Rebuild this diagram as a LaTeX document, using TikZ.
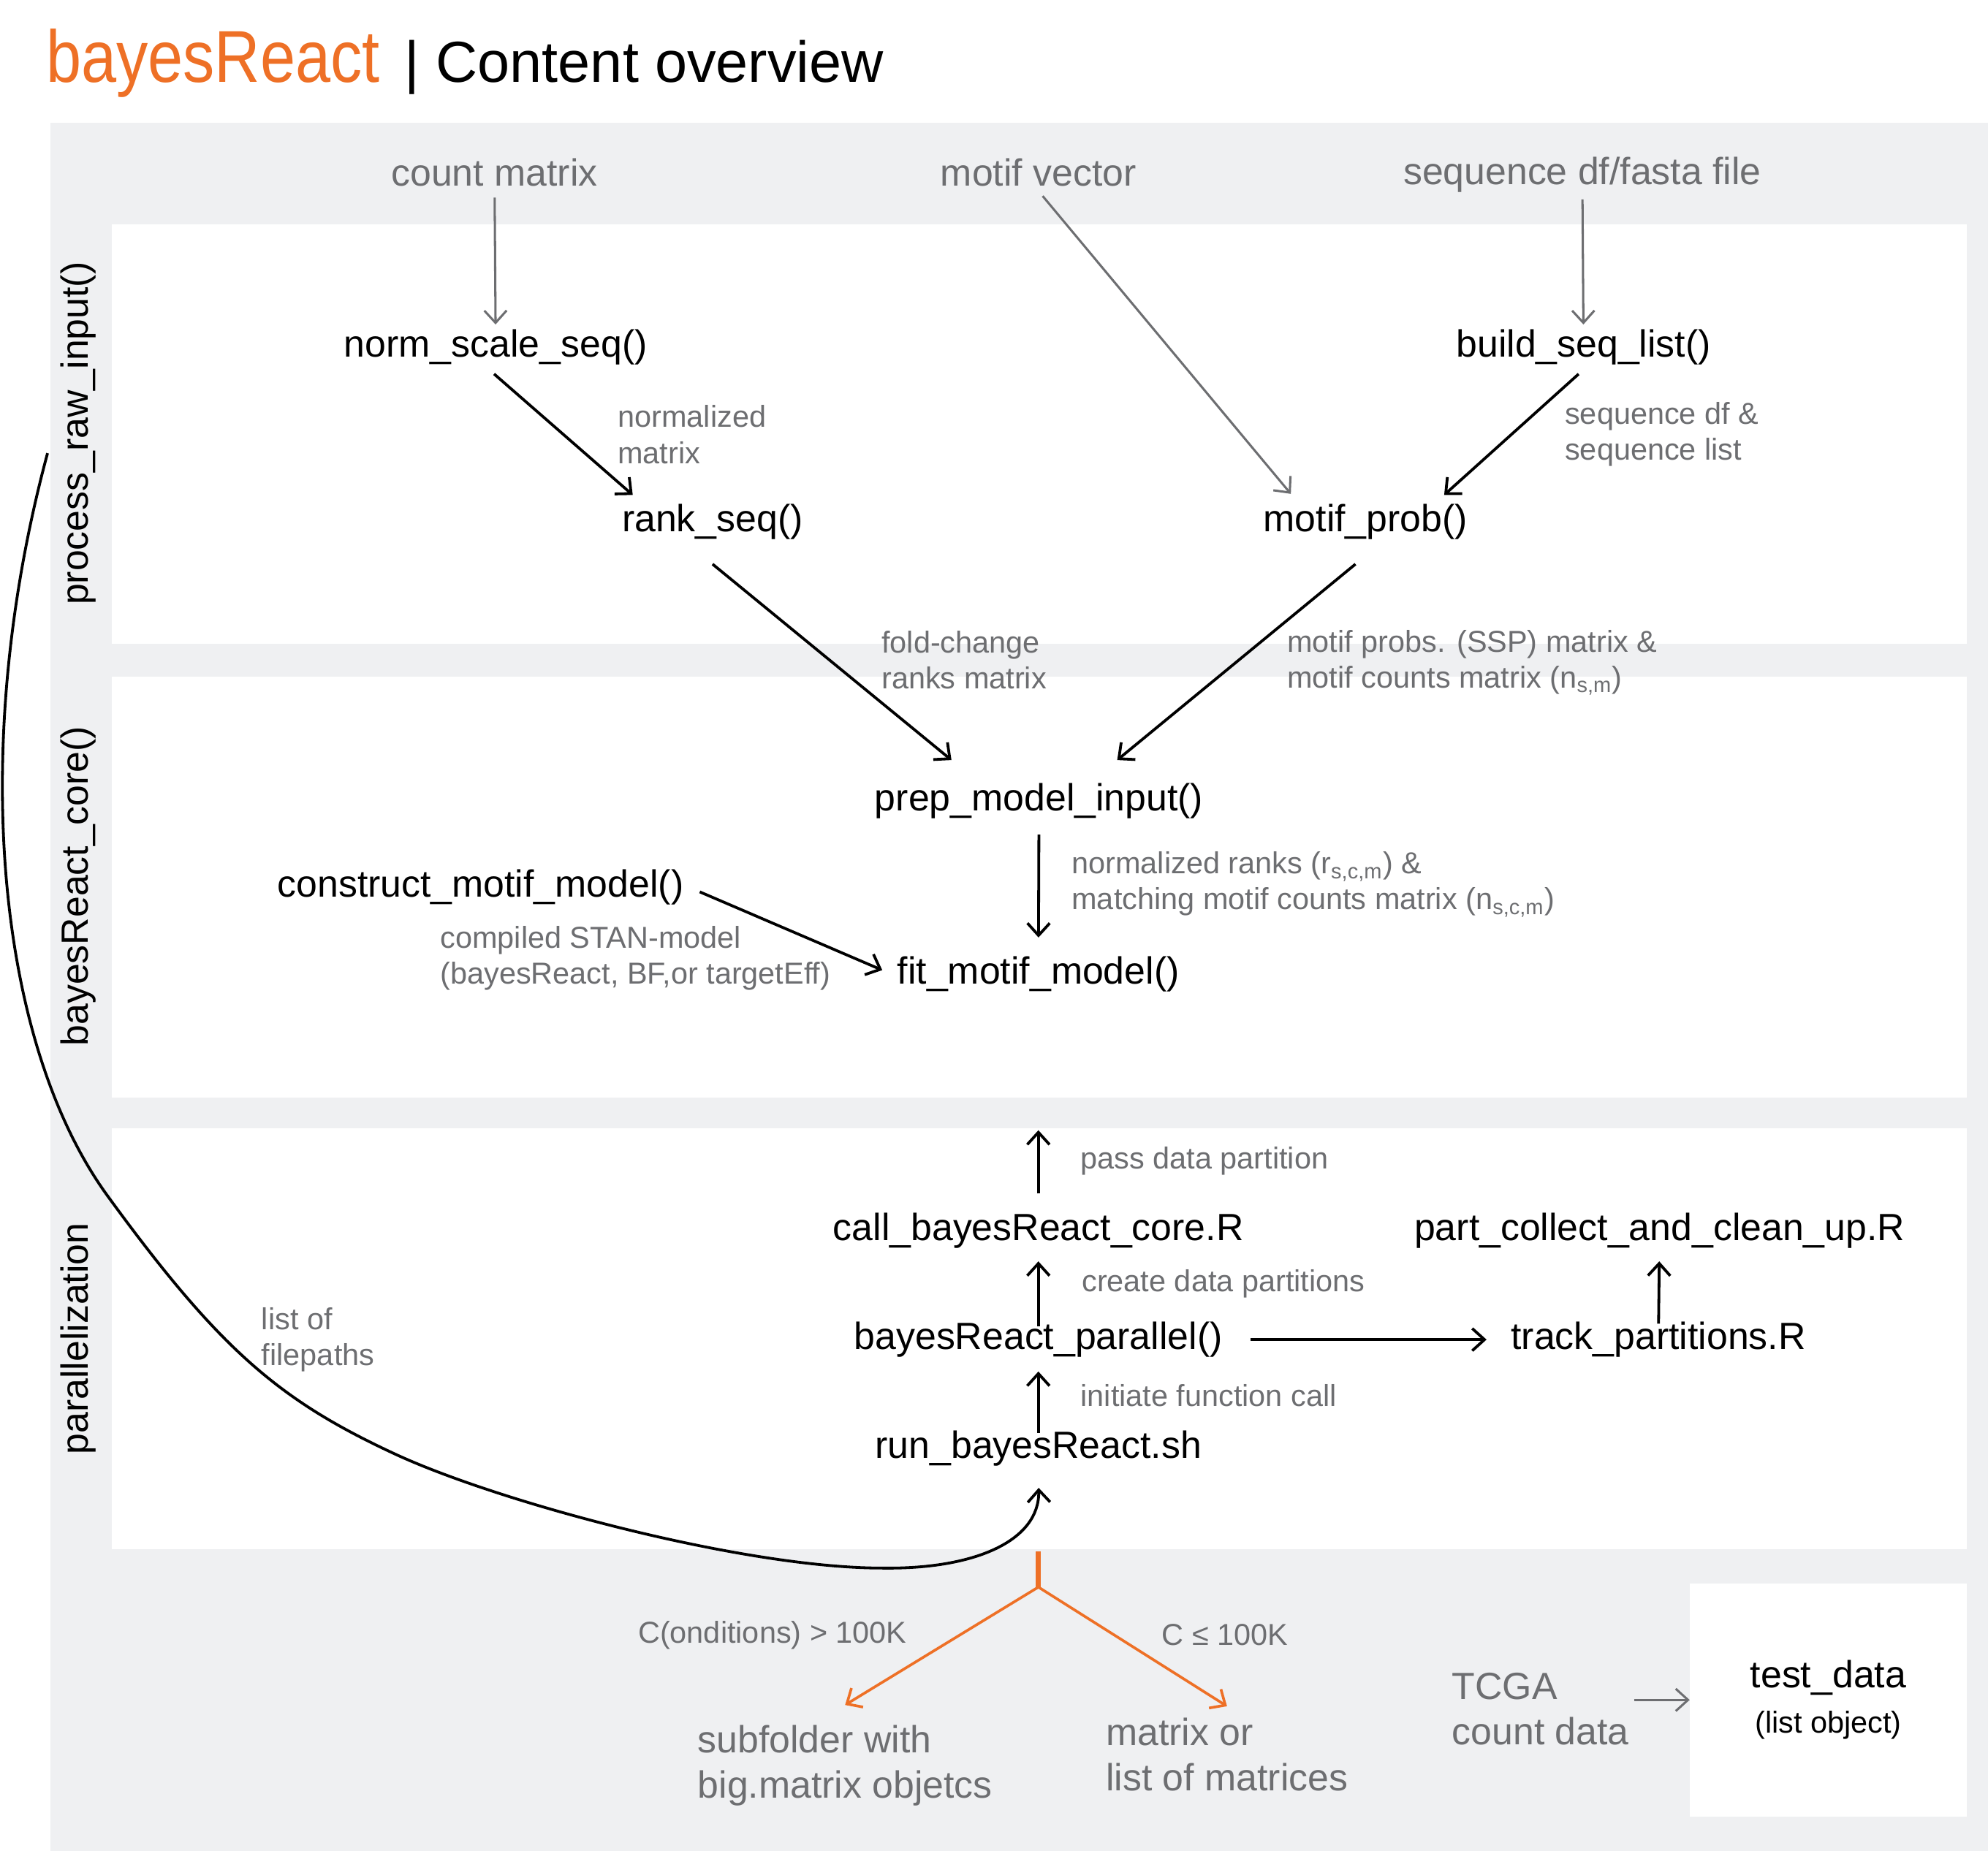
\documentclass[tikz,border=0pt]{standalone}
\usepackage{fontspec}
\setmainfont{Liberation Sans}
\newfontfamily\brandfont[FakeStretch=0.86]{Liberation Sans}
\usetikzlibrary{arrows.meta}
\definecolor{brandorange}{HTML}{EE7026}
\definecolor{notegray}{HTML}{6D6E71}
\definecolor{bggray}{HTML}{EFF0F2}

\begin{document}
\begin{tikzpicture}[x=0.02cm, y=-0.02cm, >={Straight Barb[length=5.5pt,width=10pt]},
    fn/.style={inner sep=2pt, yshift=-1pt, font=\fontsize{17}{20.4}\selectfont},
    inp/.style={fn, text=notegray},
    note/.style={inner sep=0pt, yshift=-1pt, anchor=west, align=left, text=notegray, font=\fontsize{13.6}{16.2}\selectfont},
    outp/.style={inner sep=0pt, anchor=west, align=left, text=notegray, font=\fontsize{17}{20.4}\selectfont},
    side/.style={rotate=90, font=\fontsize{17}{20.4}\selectfont},
    blk/.style={->, line width=1.25pt},
    gry/.style={->, draw=notegray, line width=1pt},
    org/.style={->, draw=brandorange, line width=1.2pt}]

    \useasboundingbox (0,0) rectangle (1568,1460);
    \fill[bggray] (40,97) rectangle (1568,1460);
    \fill[white] (88,177) rectangle (1551,508);
    \fill[white] (88,534) rectangle (1551,866);
    \fill[white] (88,890) rectangle (1551,1222);

    \node[anchor=base west, inner sep=0pt, text=brandorange, font=\brandfont\fontsize{33}{40}\selectfont] (brand) at (36,65) {bayesReact};
    \node[anchor=base west, inner sep=0pt, font=\fontsize{26}{31}\selectfont] (title) at (319,65) {| Content overview};

    \node[side] (praw) at (62,342) {process\_raw\_input()};
    \node[side] (pcore) at (62,699) {bayesReact\_core()};
    \node[side] (ppar) at (62,1056) {parallelization};

    \node[inp] (cm) at (390,134) {count matrix};
    \node[inp] (mv) at (819,134) {motif vector};
    \node[inp] (sdf) at (1248,136) {sequence df/fasta file};

    \node[fn] (nss) at (391,272) {norm\_scale\_seq()};
    \node[fn] (bsl) at (1249,272) {build\_seq\_list()};
    \node[fn] (rank) at (562,410) {rank\_seq()};
    \node[fn] (mp) at (1077,410) {motif\_prob()};
    \node[fn] (prep) at (819.5,630) {prep\_model\_input()};
    \node[fn] (cmm) at (379,698) {construct\_motif\_model()};
    \node[fn] (fit) at (819,767) {fit\_motif\_model()};
    \node[fn] (call) at (819,969) {call\_bayesReact\_core.R};
    \node[fn] (part) at (1309,969) {part\_collect\_and\_clean\_up.R};
    \node[fn] (par) at (819,1055) {bayesReact\_parallel()};
    \node[fn] (track) at (1308,1055) {track\_partitions.R};
    \node[fn] (run) at (819,1141) {run\_bayesReact.sh};

    \node[note] (nm) at (487,341) {normalized\\matrix};
    \node[note] (sq) at (1234,341) {sequence df \&\\sequence list};
    \node[note] (fc) at (695,519) {fold-change\\ranks matrix};
    \node[note] (mpc) at (1015,521) {motif probs. (SSP) matrix \&\\motif counts matrix (n\textsubscript{s,m})};
    \node[note] (nr) at (845,696) {normalized ranks (r\textsubscript{s,c,m}) \&\\matching motif counts matrix (n\textsubscript{s,c,m})};
    \node[note] (stan) at (347,754) {compiled STAN-model\\(bayesReact, BF,or targetEff)};
    \node[note] (pdp) at (852,914) {pass data partition};
    \node[note] (cdp) at (853,1011) {create data partitions};
    \node[note] (ifc) at (852,1099) {initiate function call};
    \node[note] (lof) at (206,1055) {list of\\filepaths};
    \node[note] (cgt) at (503,1288) {C(onditions) > 100K};
    \node[note] (cle) at (916,1288) {C ≤ 100K};

    \node[outp] (sub) at (550,1393) {subfolder with\\big.matrix objetcs};
    \node[outp] (mat) at (872,1384) {matrix or\\list of matrices};
    \node[outp] (tcga) at (1145,1348) {TCGA\\count data};
    \node[fn, yshift=1pt, fill=white, minimum width=4.36cm, minimum height=3.68cm, align=center] (testdata) at (1442,1341) {test\_data\\{\fontsize{13.6}{16}\selectfont (list object)}};

    \coordinate (rawout) at (37.5,357.5);
    \coordinate (fork) at (819,1252);

    \draw[gry, shorten <=3pt] (cm) -- (nss);
    \draw[gry, shorten <=3pt] (mv.south) -- ([xshift=14.5pt,yshift=2.5pt]mp.north west);
    \draw[gry, shorten <=1pt] (sdf) -- (bsl);

    \draw[blk, shorten <=3pt] ([xshift=-3pt]nss.south) -- ([xshift=7pt,yshift=2pt]rank.north west);
    \draw[blk, shorten <=3pt] (bsl.south) -- ([xshift=-12.7pt,yshift=2pt]mp.north east);
    \draw[blk] ([yshift=-8.8pt]rank.south) -- ([xshift=36.6pt,yshift=8.2pt]prep.north west);
    \draw[blk] ([xshift=-4.5pt,yshift=-8.8pt]mp.south) -- ([xshift=-40.8pt,yshift=8.2pt]prep.north east);
    \draw[blk, shorten <=5pt, shorten >=6.5pt] (prep) -- (fit);
    \draw[blk, shorten <=5.5pt, shorten >=5pt] (cmm.east) -- (fit.west);

    \draw[blk, shorten <=6.5pt, shorten >=59.8pt] (call) -- (fit);
    \draw[blk, shorten <=-4.2pt, shorten >=3.7pt] (par) -- (call);
    \draw[blk, shorten <=-3pt, shorten >=4.2pt] (run) -- (par);
    \draw[blk, shorten <=10.5pt, shorten >=8.8pt] (par) -- (track);
    \draw[blk, shorten <=-3pt, shorten >=3.7pt] (track) -- (part);

    \draw[blk, shorten >=7.5pt] (rawout) .. controls (-24.6,587.5) and (-3.5,822.5) .. (85.3,944)
        .. controls (173.8,1065.5) and (220.8,1104.9) .. (311.5,1147)
        .. controls (393.1,1184.9) and (586,1237) .. (696,1237)
        .. controls (770,1238) and (820,1215) .. (run.south);

    \draw[brandorange, line width=2.3pt, shorten <=36pt] (run.south) -- (fork);
    \draw[org] (fork) -- ([yshift=9pt]sub.north);
    \draw[org] (fork) -- ([yshift=5pt]mat.north);

    \draw[gry, shorten <=2pt] (tcga.east |- testdata.west) -- (testdata.west);

\end{tikzpicture}
\end{document}
